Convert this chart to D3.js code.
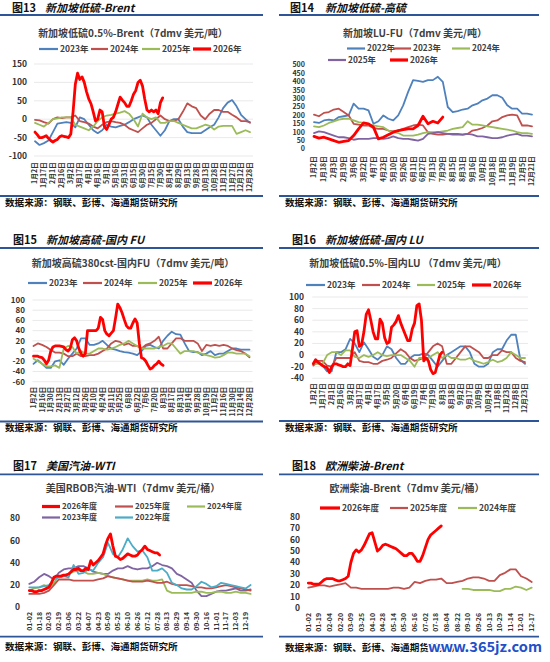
<!DOCTYPE html>
<html><head><meta charset="utf-8">
<script src="https://cdnjs.cloudflare.com/ajax/libs/d3/7.8.5/d3.min.js"></script>
<style>
body{margin:0;background:#fff}
svg{display:block}
text{font-family:"Noto Sans CJK SC","Noto Sans",sans-serif}
</style>
</head><body>
<svg id="c" width="550" height="662"></svg>
<script>
// ---------- tick labels ----------
const p13Ticks = ["1月2日","1月17日","2月1日","2月16日","3月2日","3月17日","4月1日","4月16日","5月1日","5月16日","5月31日","6月15日","6月30日","7月15日","7月30日","8月14日","8月29日","9月13日","9月28日","10月13日","10月28日","11月12日","11月27日","12月12日","12月28日"];
const p14Ticks = ["1月2日","1月18日","2月3日","2月19日","3月6日","3月22日","4月7日","4月23日","5月10日","5月26日","6月11日","6月27日","7月13日","7月29日","8月15日","8月31日","9月16日","10月2日","10月18日","11月3日","11月19日","12月5日","12月21日"];
const p15Ticks = ["1月2日","1月16日","1月30日","2月13日","2月27日","3月12日","3月26日","4月10日","4月24日","5月11日","5月25日","6月8日","6月22日","7月6日","7月20日","8月3日","8月17日","8月31日","9月14日","9月28日","10月19日","11月2日","11月16日","11月30日","12月14日","12月28日"];
const p16Ticks = ["1月2日","1月17日","2月1日","2月16日","3月2日","3月17日","4月1日","4月17日","5月5日","5月20日","6月4日","6月19日","7月4日","7月19日","8月3日","8月18日","9月2日","9月17日","10月9日","10月24日","11月8日","11月23日","12月8日","12月23日"];
const p17Ticks = ["01-02","01-18","02-03","02-19","03-06","03-22","04-07","04-23","05-09","05-25","06-10","06-26","07-12","07-28","08-13","08-29","09-14","09-30","10-16","11-01","11-17","12-03","12-19"];
const p18Ticks = ["01-02","01-19","02-04","02-20","03-09","03-25","04-10","04-28","05-14","05-30","06-16","07-02","07-18","08-04","08-22","09-10","09-26","10-13","10-29","11-14","12-01","12-17"];

// ---------- 图13 新加坡低硫0.5%-Brent ----------
const p13y2023 = [-60,-70,-65,-58,-35,-12,-10,-8,-10,-22,5,0,-15,-30,-38,-30,-15,-20,-22,-18,-15,-8,0,5,10,5,-15,-30,-45,-30,-5,0,0,-20,-35,-38,-38,-38,-30,-22,-15,5,30,45,52,35,12,0,-10];
const p13y2024 = [-2,-3,-8,-12,0,5,3,5,5,10,-5,-8,-12,-20,-25,-15,-8,-5,-8,-10,-15,-25,-30,-35,-25,-15,-10,0,10,0,-5,-5,0,20,43,35,30,10,0,15,25,25,20,20,12,5,-5,-5,-8];
const p13y2025 = [-10,-15,-20,-10,0,2,5,5,5,-15,-20,-25,-30,-20,-5,5,10,12,15,18,22,15,0,-20,15,5,0,5,-10,-10,-5,-5,-10,-15,-20,-25,-25,-20,-15,-18,-28,-20,-18,-18,-18,-40,-35,-30,-35];
const p13y2026 = [-35,-42,-50,-50,-48,-45,-52,-58,-62,-58,-55,-48,-45,-47,-48,-50,-40,20,95,125,108,115,100,75,55,42,20,-5,0,25,20,-20,-28,-15,0,5,20,40,60,52,45,35,35,50,68,78,100,106,90,55,25,20,25,20,25,15,45,58];

// ---------- 图14 新加坡LU-FU ----------
const p14y2022 = [160,155,170,175,170,190,195,200,270,240,240,230,150,165,200,180,170,200,260,340,410,405,400,410,410,430,400,250,220,225,235,240,260,270,290,300,320,320,305,260,240,240,210,210,205];
const p14y2023 = [205,195,215,220,235,240,220,200,150,145,140,140,125,120,120,110,105,110,120,130,140,145,140,100,90,85,85,90,90,90,85,90,110,115,125,140,165,170,190,200,205,200,140,140,135];
const p14y2024 = [135,130,140,155,165,175,180,180,170,160,155,145,140,135,130,110,100,95,80,80,80,85,95,100,100,100,105,110,120,125,130,165,145,145,140,135,130,125,120,115,110,100,95,95,90];
const p14y2025 = [95,105,100,90,80,70,70,65,55,60,60,60,65,65,60,65,75,65,60,60,55,50,60,90,95,100,95,90,85,85,85,90,85,75,75,70,65,65,70,80,85,90,80,80,75];
const p14y2026 = [75,65,70,60,50,40,45,50,80,120,155,150,130,60,70,85,100,110,115,120,120,140,195,150,165,155,190];

// ---------- 图15 新加坡高硫380cst-国内FU ----------
const p15y2023 = [-25,-18,-25,-33,-33,-20,-18,-27,-15,-5,5,25,25,12,12,15,20,12,5,3,0,-2,-3,-5,-8,0,10,12,8,5,20,30,38,33,32,15,0,-2,-2,-8,-5,0,-8,-5,-5,0,5,5,3,3,3];
const p15y2024 = [10,15,12,8,2,-3,-3,-5,-10,-10,-5,-10,-10,-8,-8,-5,0,5,15,20,18,12,15,10,10,5,12,15,20,28,5,5,15,25,25,20,20,20,15,0,12,10,12,10,12,10,5,2,0,-5,-12];
const p15y2025 = [-15,-20,-25,-30,-30,-28,-33,5,10,8,-5,0,-5,-5,0,5,5,3,5,8,12,15,20,15,10,5,5,5,5,8,10,15,15,5,-5,0,0,0,-3,-5,-8,-10,-13,-12,-8,-3,-3,-5,-5,-5,-10];
const p15y2026 = [-10,-10,-10,-12,-13,-18,-25,-18,0,8,10,10,10,9,8,3,0,5,22,26,20,5,-5,-10,-5,40,40,40,40,40,45,66,62,40,33,30,35,40,65,92,85,75,62,50,45,45,55,63,55,15,-13,-15,-20,-28,-35,-33,-28,-25,-20,-25,-28];

// ---------- 图16 新加坡低硫0.5%-国内LU ----------
const p16y2023 = [-18,-12,-18,-28,-28,5,5,10,28,20,5,22,10,-3,-8,0,15,10,-5,-15,-15,-5,0,0,3,0,-10,-20,-10,0,5,10,15,15,5,-15,-20,-20,-15,5,10,10,25,35,35,-8,-15];
const p16y2024 = [-15,-10,-10,-18,-20,-5,-5,-5,-5,5,-10,-12,-12,-15,-15,-10,-8,-5,3,10,5,-5,-10,-8,-5,5,15,20,15,-15,-15,-5,5,15,15,10,5,-5,-5,0,0,8,5,5,-5,-10,-12];
const p16y2025 = [-15,-15,-15,0,5,5,0,8,8,-3,-5,0,-3,0,5,0,-2,0,0,0,-5,-10,-20,-5,-5,-5,0,5,-5,0,-5,-5,-8,-8,-5,-10,-12,-15,-12,-8,-12,-10,-5,5,0,-5,-5];
const p16y2026 = [-15,-8,-12,-15,-18,-20,-22,-30,-20,-15,-15,-17,-18,-20,-20,-15,-18,10,40,42,15,18,40,70,78,60,40,28,28,62,55,30,20,22,48,52,58,68,55,45,35,25,25,45,55,85,88,60,-10,-5,-10,-25,-32,-30,-15,0,5];

// ---------- 图17 美国RBOB汽油-WTI ----------
const p17y2022 = [18,18,18,19,20,25,27,28,27,38,30,31,34,33,40,45,58,48,45,52,62,55,50,51,45,33,33,35,31,22,20,17,16,16,19,23,21,18,19,22,21,20,19,18,17,20];
const p17y2023 = [21,23,27,30,28,25,31,34,35,35,37,37,35,32,31,30,30,33,35,35,37,35,34,35,35,37,40,38,37,35,30,28,25,22,15,10,10,12,14,15,15,16,17,15,15,16];
const p17y2024 = [15,17,18,20,18,22,28,29,30,32,33,32,30,30,31,30,28,27,26,25,24,24,24,24,25,24,24,25,15,13,13,13,13,13,14,14,13,13,14,14,13,13,14,13,13,12];
const p17y2025 = [12,12,12,13,15,20,25,25,25,24,24,24,24,24,25,26,28,27,26,25,24,23,23,23,24,23,22,22,23,21,20,20,20,19,18,18,17,17,18,19,20,19,18,17,16,15];
const p17y2026 = [15,15,14,14,15,15,16,17,18,22,27,28,28,28,29,29,30,32,34,34,35,33,33,35,34,42,38,40,42,45,48,56,62,66,55,46,45,43,44,46,48,47,46,46,47,50,52,55,52,51,50,49,49,47];

// ---------- 图18 欧洲柴油-Brent ----------
const p18y2024 = [17,17,16,16,16,16,15,15,17,17,19,18,16,18];
const p18y2025 = [18,19,20,20,19,20,21,22,18,18,17,17,17,17,17,17,18,18,17,18,23,22,24,25,25,26,22,22,23,24,26,27,27,26,24,24,29,31,34,34,28,26,23];
const p18y2026 = [22,22,21,21,21,23,25,26,26,26,25,24,24,25,26,28,40,48,51,49,51,55,60,65,66,58,50,52,55,56,55,54,53,52,50,48,46,46,48,48,45,41,41,46,53,60,64,66,68,70,72];

// ---------- styles ----------
const C = {blue:"#4f81bd", dred:"#c0504d", green:"#9bbb59", purple:"#8064a2", cyan:"#4bacc6", red:"#ff0000", rule:"#2e5597"};
const W = 1.8, WR = 2.8;

const panels = [
 {num:"图13", head:"新加坡低硫-Brent", hx:12, hnx:45, hy:8, ruleTop:15, ruleBot:196, rx0:0, rx1:263,
  title:"新加坡低硫0.5%-Brent（7dmv 美元/吨）", tx:133, ty:33,
  src:"数据来源：钢联、彭博、海通期货研究所", sx:5, sy:203,
  ticks:p13Ticks, x0:35, x1:250, yd:[-100,150], yr:[156,64], yt:d3.range(-100,151,50), ylx:27, ylf:8.5, tlTop:162, grid:true, lf:8.5,
  series:[
   {v:p13y2023,step:0.5,c:C.blue,w:W},{v:p13y2024,step:0.5,c:C.dred,w:W},{v:p13y2025,step:0.5,c:C.green,w:W},{v:p13y2026,step:0.25,c:C.red,w:WR}],
  legend:[{t:"2023年",c:C.blue,w:W,a:39,b:58,y:49},{t:"2024年",c:C.dred,w:W,a:91,b:108,y:49},{t:"2025年",c:C.green,w:W,a:142,b:160,y:49},{t:"2026年",c:C.red,w:WR,a:193,b:211,y:49}]},
 {num:"图14", head:"新加坡低硫-高硫", hx:290, hnx:325, hy:8, ruleTop:15, ruleBot:196, rx0:279, rx1:539,
  title:"新加坡LU-FU（7dmv 美元/吨）", tx:415, ty:33,
  src:"数据来源：钢联、彭博、海通期货研究所", sx:285, sy:203,
  ticks:p14Ticks, x0:314, x1:532, yd:[0,500], yr:[149,65], yt:d3.range(0,501,50), ylx:305, ylf:7.1, tlTop:156, grid:false, lf:8.3,
  series:[
   {v:p14y2022,step:0.5,c:C.blue,w:W},{v:p14y2023,step:0.5,c:C.dred,w:W},{v:p14y2024,step:0.5,c:C.green,w:W},{v:p14y2025,step:0.5,c:C.purple,w:W},{v:p14y2026,step:0.5,c:C.red,w:WR}],
  legend:[{t:"2022年",c:C.blue,w:W,a:347,b:365,y:48.5},{t:"2023年",c:C.dred,w:W,a:393,b:411,y:48.5},{t:"2024年",c:C.green,w:W,a:452,b:470,y:48.5},
          {t:"2025年",c:C.purple,w:W,a:328,b:346,y:60},{t:"2026年",c:C.red,w:WR,a:390,b:408,y:60}]},
 {num:"图15", head:"新加坡高硫-国内 FU", hx:13, hnx:46, hy:240, ruleTop:248, ruleBot:421.5, rx0:0, rx1:263,
  title:"新加坡高硫380cst-国内FU（7dmv 美元/吨）", tx:133, ty:263,
  src:"数据来源：钢联、彭博、海通期货研究所", sx:5, sy:428,
  ticks:p15Ticks, x0:33.5, x1:249.5, yd:[-60,100], yr:[381.7,300], yt:d3.range(-60,101,20), ylx:25, ylf:8, tlTop:386.5, grid:true, lf:8.5,
  series:[
   {v:p15y2023,step:0.5,c:C.blue,w:W},{v:p15y2024,step:0.5,c:C.dred,w:W},{v:p15y2025,step:0.5,c:C.green,w:W},{v:p15y2026,step:0.25,c:C.red,w:WR}],
  legend:[{t:"2023年",c:C.blue,w:W,a:28,b:47,y:283},{t:"2024年",c:C.dred,w:W,a:83,b:102,y:283},{t:"2025年",c:C.green,w:W,a:138,b:157,y:283},{t:"2026年",c:C.red,w:WR,a:193,b:212,y:283}]},
 {num:"图16", head:"新加坡低硫-国内 LU", hx:292, hnx:325, hy:240, ruleTop:248, ruleBot:421, rx0:279, rx1:539,
  title:"新加坡低硫0.5%-国内LU （7dmv 美元/吨）", tx:408, ty:263,
  src:"数据来源：钢联、彭博、海通期货研究所", sx:285, sy:428,
  ticks:p16Ticks, x0:313.3, x1:525, yd:[-40,100], yr:[378.3,297], yt:d3.range(-40,101,20), ylx:304, ylf:8.5, tlTop:383, grid:true, lf:8.5,
  series:[
   {v:p16y2023,step:0.5,c:C.blue,w:W},{v:p16y2024,step:0.5,c:C.dred,w:W},{v:p16y2025,step:0.5,c:C.green,w:W},{v:p16y2026,step:0.25,c:C.red,w:WR}],
  legend:[{t:"2023年",c:C.blue,w:W,a:306,b:325,y:285},{t:"2024年",c:C.dred,w:W,a:362,b:380,y:285},{t:"2025年",c:C.green,w:W,a:417,b:435,y:285},{t:"2026年",c:C.red,w:WR,a:472,b:491,y:285}]},
 {num:"图17", head:"美国汽油-WTI", hx:13, hnx:46, hy:466, ruleTop:474.3, ruleBot:636.7, rx0:0, rx1:263,
  title:"美国RBOB汽油-WTI（7dmv 美元/桶）", tx:133, ty:488,
  src:"数据来源：钢联、彭博、海通期货研究所", sx:5, sy:647,
  ticks:p17Ticks, x0:29.3, x1:245.7, yd:[0,80], yr:[607.3,518.3], yt:d3.range(0,81,20), ylx:20, ylf:8.5, tlTop:612, grid:false, lf:8,
  series:[
   {v:p17y2023,step:0.5,c:C.purple,w:W},{v:p17y2024,step:0.5,c:C.green,w:W},{v:p17y2025,step:0.5,c:C.dred,w:W},{v:p17y2022,step:0.5,c:C.cyan,w:W},{v:p17y2026,step:0.25,c:C.red,w:WR}],
  legend:[{t:"2026年度",c:C.red,w:WR,a:42,b:60,y:506.5},{t:"2025年度",c:C.dred,w:W,a:115,b:133,y:506.5},{t:"2024年度",c:C.green,w:W,a:187,b:205,y:506.5},
          {t:"2023年度",c:C.purple,w:W,a:42,b:60,y:517.5},{t:"2022年度",c:C.cyan,w:W,a:115,b:133,y:517.5}]},
 {num:"图18", head:"欧洲柴油-Brent", hx:292, hnx:325, hy:466, ruleTop:474.3, ruleBot:636.7, rx0:279, rx1:539,
  title:"欧洲柴油-Brent（7dmv 美元/桶）", tx:407, ty:488,
  src:"数据来源：钢联、彭博、海通期货研究所", sx:285, sy:648,
  ticks:p18Ticks, x0:308.3, x1:531.7, yd:[0,80], yr:[608.3,516.7], yt:d3.range(0,81,10), ylx:300, ylf:8.5, tlTop:613, grid:false, lf:8.5,
  series:[
   {v:p18y2024,start:14.5,step:0.5,c:C.green,w:W},{v:p18y2025,step:0.5,c:C.dred,w:W},{v:p18y2026,step:0.25,c:C.red,w:WR}],
  legend:[{t:"2026年度",c:C.red,w:WR,a:320,b:340,y:508},{t:"2025年度",c:C.dred,w:W,a:390,b:408,y:508},{t:"2024年度",c:C.green,w:W,a:458,b:477,y:508}]}
];

const svg = d3.select("#c");

function drawPanel(p){
  const g = svg.append("g");
  g.append("text").attr("x",p.hx).attr("y",p.hy).attr("dy","0.35em").attr("font-size",11).attr("font-weight",700).attr("fill","#111").text(p.num);
  g.append("text").attr("x",p.hnx).attr("y",p.hy).attr("dy","0.35em").attr("font-size",11).attr("font-weight",700).attr("font-style","italic").attr("fill","#111").text(p.head);
  g.append("line").attr("x1",p.rx0).attr("x2",p.rx1).attr("y1",p.ruleTop).attr("y2",p.ruleTop).attr("stroke",C.rule).attr("stroke-width",1.8);
  g.append("line").attr("x1",p.rx0).attr("x2",p.rx1).attr("y1",p.ruleBot).attr("y2",p.ruleBot).attr("stroke",C.rule).attr("stroke-width",1.8);
  g.append("text").attr("x",p.sx).attr("y",p.sy).attr("dy","0.35em").attr("font-size",9.6).attr("font-weight",700).attr("fill","#111").text(p.src);
  g.append("text").attr("x",p.tx).attr("y",p.ty).attr("dy","0.35em").attr("text-anchor","middle").attr("font-size",10).attr("font-weight",700).attr("fill","#404040").text(p.title);

  const x = d3.scaleLinear().domain([0,p.ticks.length-1]).range([p.x0,p.x1]);
  const y = d3.scaleLinear().domain(p.yd).range(p.yr);

  if(p.grid){
    g.append("g").selectAll("line").data(p.yt).join("line")
      .attr("x1",p.x0-1).attr("x2",p.x1+3).attr("y1",d=>y(d)).attr("y2",d=>y(d))
      .attr("stroke","#e3e3e3").attr("stroke-width",0.8);
  }
  g.append("g").selectAll("text").data(p.yt).join("text")
    .attr("x",p.ylx).attr("y",d=>y(d)).attr("dy","0.35em").attr("text-anchor","end")
    .attr("font-size",p.ylf).attr("font-weight",700).attr("fill","#333").text(d=>d);
  g.append("g").selectAll("text").data(p.ticks).join("text")
    .attr("transform",(d,i)=>`translate(${x(i)},${p.tlTop}) rotate(-90)`)
    .attr("dy","0.35em").attr("text-anchor","end")
    .attr("font-size",6.9).attr("font-weight",700).attr("fill","#333").text(d=>d);
  p.series.forEach(s=>{
    const st = s.start||0;
    const line = d3.line().x((d,i)=>x(st+i*s.step)).y(d=>y(d));
    g.append("path").attr("d",line(s.v)).attr("fill","none").attr("stroke",s.c).attr("stroke-width",s.w).attr("stroke-linejoin","round").attr("stroke-linecap","round");
  });
  p.legend.forEach(l=>{
    g.append("line").attr("x1",l.a).attr("x2",l.b).attr("y1",l.y).attr("y2",l.y).attr("stroke",l.c).attr("stroke-width",l.w+0.4);
    g.append("text").attr("x",l.b+2).attr("y",l.y).attr("dy","0.35em").attr("font-size",p.lf).attr("font-weight",700).attr("fill","#404040").text(l.t);
  });
}
panels.forEach(drawPanel);

svg.append("text").attr("x",428).attr("y",647).attr("dy","0.35em").attr("font-size",14).attr("font-weight",700)
  .attr("font-family","DejaVu Sans").attr("textLength",114).attr("lengthAdjust","spacingAndGlyphs")
  .attr("fill","#2250c8").attr("stroke","#fff").attr("stroke-width",2.5).attr("paint-order","stroke").text("www.365jz.com");
</script>
</body></html>
